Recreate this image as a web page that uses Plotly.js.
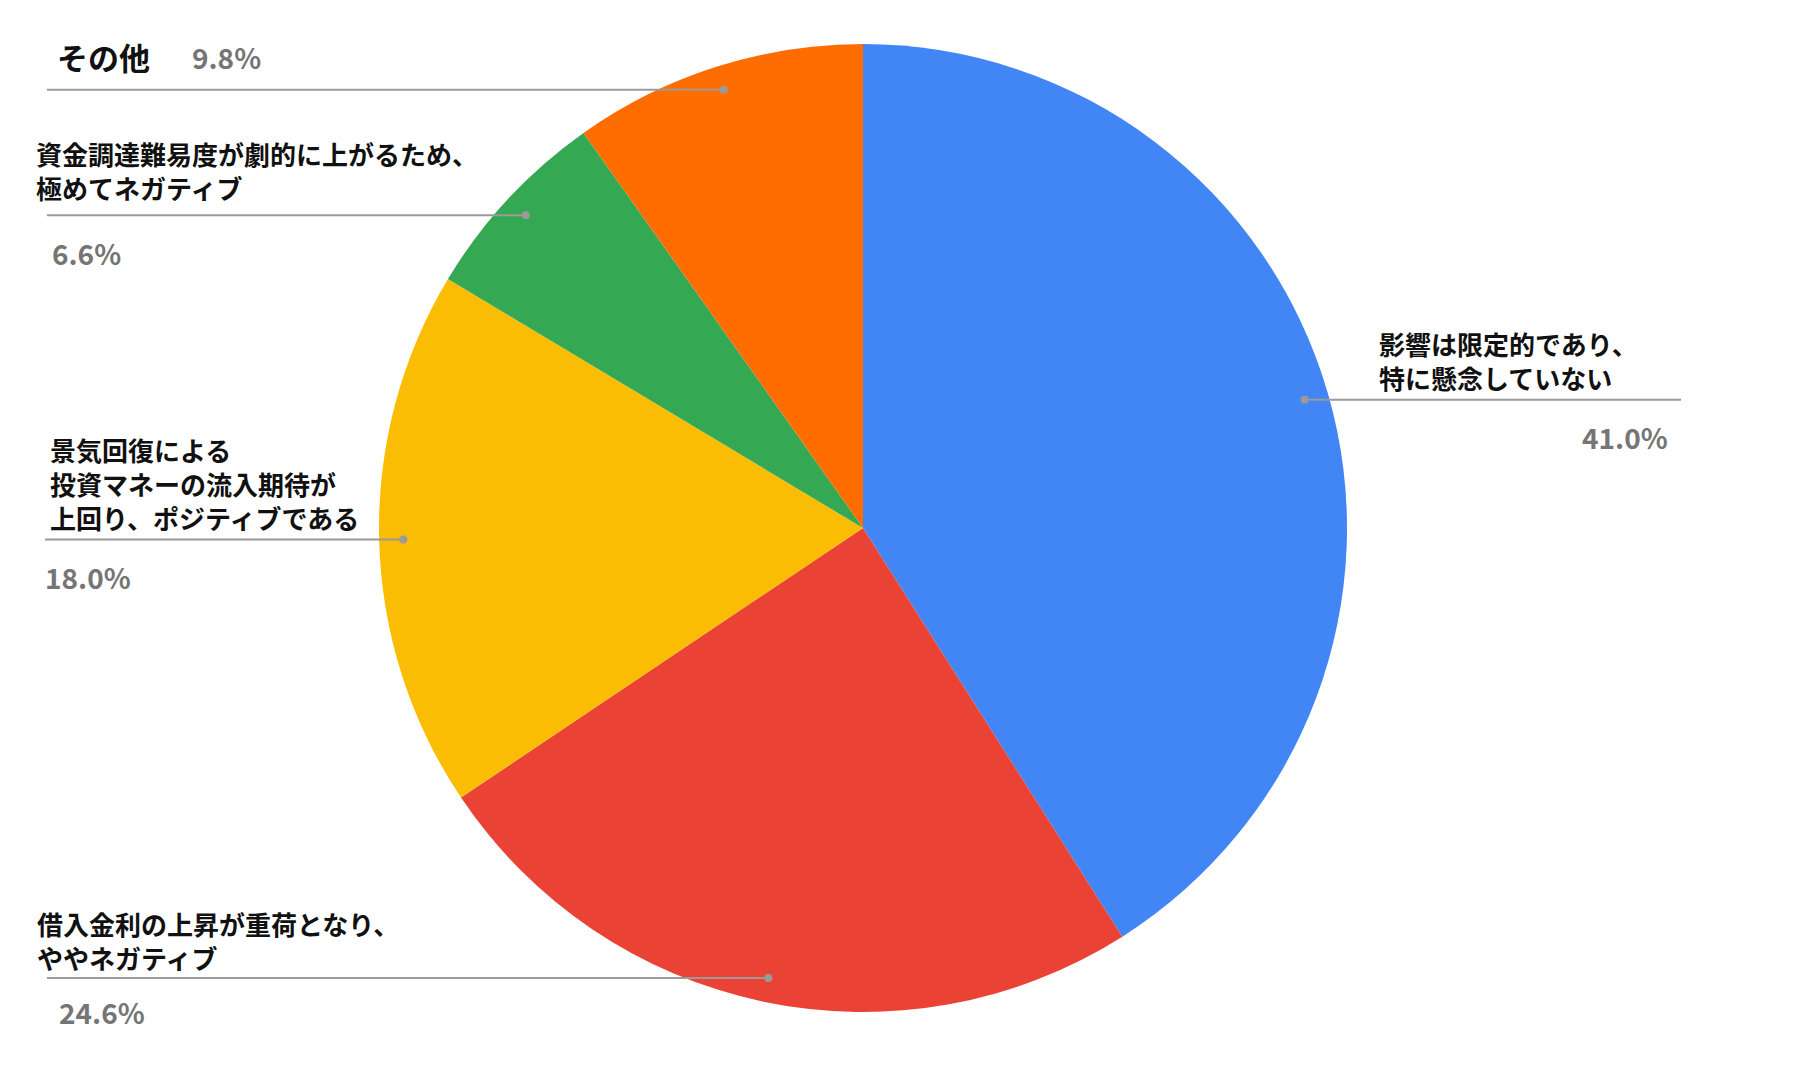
<!DOCTYPE html>
<html>
<head>
<meta charset="utf-8">
<script src="https://cdn.plot.ly/plotly-3.0.1.min.js"></script>
<style>
  html, body { margin: 0; padding: 0; background: #ffffff; }
  #chart { width: 1806px; height: 1066px; }
</style>
</head>
<body>
<div id="chart"></div>
<script>
// slices, clockwise from 12 o'clock
let labels = [
  '影響は限定的であり、\n特に懸念していない',
  '借入金利の上昇が重荷となり、\nややネガティブ',
  '景気回復による\n投資マネーの流入期待が\n上回り、ポジティブである',
  '資金調達難易度が劇的に上がるため、\n極めてネガティブ',
  'その他'
]
let values = [41.0, 24.6, 18.0, 6.6, 9.8]
let colors = ['#4285F4', '#EA4335', '#FBBC04', '#34A853', '#FF6D01']

// page geometry (px)
const W = 1806, H = 1066
const CX = 863, CY = 528, R = 484

// where each callout sits: text start, text block centre y, leader end x, percent pos
let callouts = [
  { tx: 1377, ty: 360, endX: 1681, px: 1670, py: 437, pAnchor: 'right', size: 26 },
  { tx: 35,   ty: 940, endX: 47,   px: 57,   py: 1012, pAnchor: 'left', size: 26 },
  { tx: 48,   ty: 484, endX: 45,   px: 43,   py: 577, pAnchor: 'left', size: 26 },
  { tx: 34,   ty: 170, endX: 47,   px: 50,   py: 253, pAnchor: 'left', size: 26 },
  { tx: 55,   ty: 57,  endX: 47,   px: 190,  py: 57,  pAnchor: 'left', size: 31 }
]

const FONT = '"Noto Sans CJK JP", "Noto Sans", sans-serif'
const fx = p => p / W
const fy = p => 1 - p / H

let total = values.reduce((a, b) => a + b, 0)
let annotations = []
let shapes = []
let cum = 0

values.forEach((v, i) => {
  // leader dot sits at 95% radius on the slice's middle angle
  let theta = 2 * Math.PI * (cum + v / 2) / total
  cum += v
  let dotX = CX + 0.95 * R * Math.sin(theta)
  let dotY = CY - 0.95 * R * Math.cos(theta)
  let c = callouts[i]

  shapes.push({
    type: 'line', xref: 'paper', yref: 'paper',
    x0: fx(c.endX), x1: fx(dotX), y0: fy(dotY), y1: fy(dotY),
    line: { color: '#9a9a9a', width: 2 }
  })
  shapes.push({
    type: 'circle', xref: 'paper', yref: 'paper',
    xsizemode: 'pixel', ysizemode: 'pixel',
    xanchor: fx(dotX), yanchor: fy(dotY),
    x0: -4, x1: 4, y0: -4, y1: 4,
    fillcolor: '#9a9a9a', line: { width: 0 }
  })

  annotations.push({
    xref: 'paper', yref: 'paper', showarrow: false,
    x: fx(c.tx), y: fy(c.ty),
    xanchor: 'left', yanchor: 'middle', align: 'left',
    text: labels[i].split('\n').join('<br>'),
    font: { family: FONT, size: c.size, color: '#111111', weight: 700 }
  })

  annotations.push({
    xref: 'paper', yref: 'paper', showarrow: false,
    x: fx(c.px), y: fy(c.py),
    xanchor: c.pAnchor, yanchor: 'middle',
    text: v.toFixed(1) + '%',
    font: { family: FONT, size: 28, color: '#757575', weight: 700 }
  })
})

let trace = {
  type: 'pie',
  labels: labels.map(s => s.replace(/\n/g, '')),
  values: values,
  marker: { colors: colors, line: { width: 0 } },
  sort: false,
  direction: 'clockwise',
  rotation: 0,
  textinfo: 'none',
  hoverinfo: 'label+percent',
  showlegend: false,
  domain: {
    x: [fx(CX - R), fx(CX + R)],
    y: [fy(CY + R), fy(CY - R)]
  }
}

let layout = {
  width: W,
  height: H,
  margin: { l: 0, r: 0, t: 0, b: 0 },
  paper_bgcolor: '#ffffff',
  showlegend: false,
  shapes: shapes,
  annotations: annotations
}

Plotly.newPlot('chart', [trace], layout, { displayModeBar: false, staticPlot: true })
</script>
</body>
</html>
